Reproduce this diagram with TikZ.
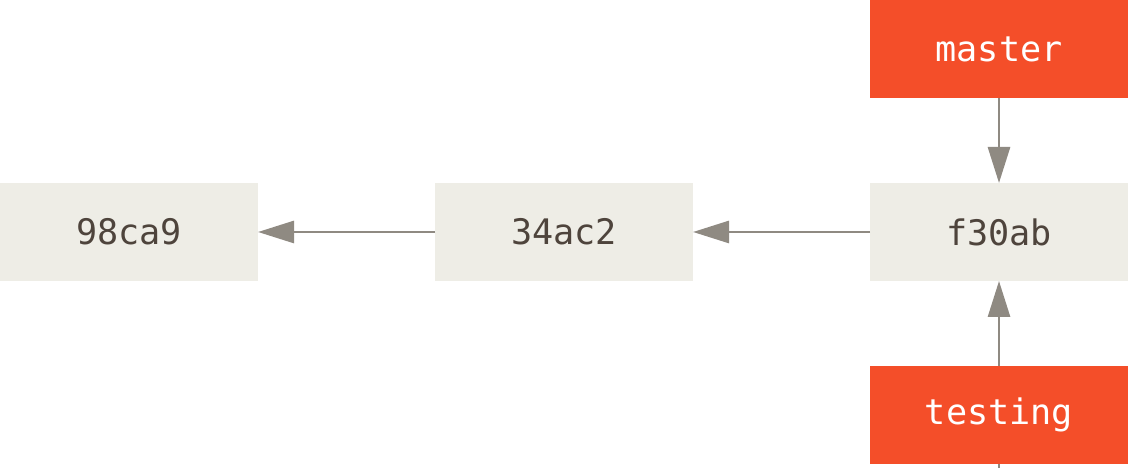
\documentclass[tikz,border=0pt]{standalone}
\usepackage{fontspec}
\setmonofont{DejaVu Sans Mono}
\usepackage{xcolor}
\usepackage{tikz}
\usetikzlibrary{arrows.meta}
\usetikzlibrary{positioning}

\definecolor{commitFill}{RGB}{238,237,230}
\definecolor{branchFill}{RGB}{244,78,41}
\definecolor{arrowGray}{RGB}{143,138,130}
\definecolor{labelText}{RGB}{78,68,60}

\begin{document}
\begin{tikzpicture}[>={Triangle[length = 0.9cm, width = 0.55cm]},
  commit/.style = {fill = commitFill, text = labelText, minimum width = 6.45cm, minimum height = 2.45cm, inner sep = 0, outer sep = 0, font = \ttfamily\fontsize{25}{30}\selectfont},
  branch/.style = {commit, fill = branchFill, text = white},
  link/.style = {->, draw = arrowGray, line width = 0.07cm}]
\def\gapX{4.425cm}
\def\gapY{2.125cm}

\useasboundingbox (0, 0) rectangle (28.2, 11.7);

% commits
\node [commit] (c1) at (3.225, 5.9) {98ca9};
\node [commit, right = \gapX of c1] (c2) {34ac2};
\node [commit, right = \gapX of c2] (c3) {f30ab};

% branches
\node [branch, above = \gapY of c3] (master) {master};
\node [branch, below = \gapY of c3] (testing) {testing};

% parents
\draw [link] (c2) -- (c1);
\draw [link] (c3) -- (c2);

% pointers
\draw [link] (master) -- (c3);
\draw [link] (testing) -- (c3);
\coordinate (tail) at (testing.south |- 0, 0);
\draw [draw = arrowGray, line width = 0.07cm] (testing.south) -- (tail);
\end{tikzpicture}
\end{document}
